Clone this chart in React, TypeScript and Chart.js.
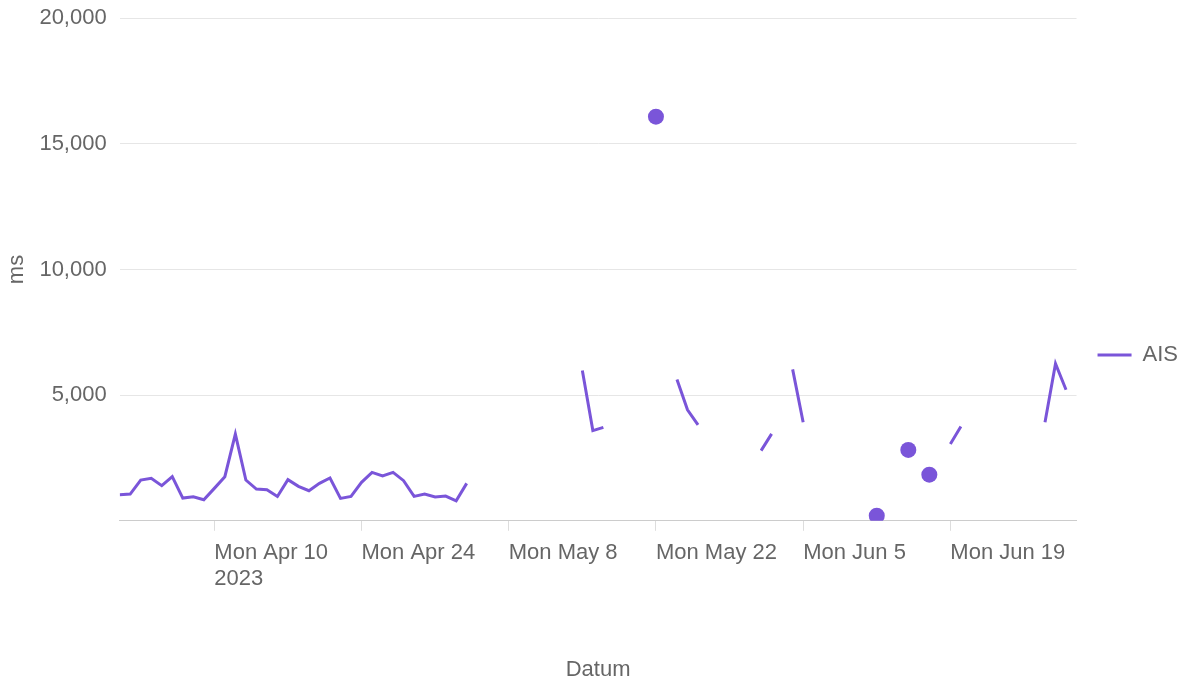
import React, { useEffect, useRef } from 'react';
import { Chart, registerables } from 'chart.js';

Chart.register(...registerables);

// ---- data ----
const START_DATE = '2023-04-01'; // day index 0
const X_MAX_DAY = 91; // Jul 1
const SERIES_NAME = 'AIS';
const SERIES_COLOR = '#7a55d9';

// daily values (ms), index = days since START_DATE, null = no data
const aisValues: (number | null)[] = [
  1037, 1064, 1623, 1690, 1397, 1756, 905, 958, 838, 1290,
  1756, 3450, 1623, 1264, 1237, 970, 1636, 1370, 1197, 1490,
  1703, 890, 970, 1530, 1927, 1783, 1927, 1596, 970, 1064,
  945, 985, 798, 1490, null, null, null, null, null, null,
  null, null, null, null, 5985, 3590, 3720, null, null, null,
  null, 16080, null, 5626, 4417, 3818, null, null, null, null,
  null, 2793, 3459, null, 6025, 3922, null, null, null, null,
  null, null, 200, null, null, 2821, null, 1835, null, 3060,
  3751, null, null, null, null, null, null, null, 3922, 6250,
  5215,
];

const xTickDays = [9, 23, 37, 51, 65, 79];
const xTickLabels: (string | string[])[] = [
  ['Mon Apr 10', '2023'],
  'Mon Apr 24',
  'Mon May 8',
  'Mon May 22',
  'Mon Jun 5',
  'Mon Jun 19',
];
const yMin = 0;
const yMax = 20000;
const yStep = 5000;
const xTitle = 'Datum';
const yTitle = 'ms';

export default function App() {
  const canvasRef = useRef<HTMLCanvasElement | null>(null);

  useEffect(() => {
    if (!canvasRef.current) return;
    Chart.defaults.font.family = '"Liberation Sans", Arial, sans-serif';
    Chart.defaults.font.size = 22;
    Chart.defaults.color = '#666666';

    const points = aisValues.map((v, i) => ({ x: i, y: v }));
    const isolated = (i: number) =>
      aisValues[i] != null &&
      (i === 0 || aisValues[i - 1] == null) &&
      (i === aisValues.length - 1 || aisValues[i + 1] == null);

    const chart = new Chart(canvasRef.current, {
      type: 'line',
      data: {
        datasets: [
          {
            label: SERIES_NAME,
            data: points as any,
            borderColor: SERIES_COLOR,
            backgroundColor: SERIES_COLOR,
            borderWidth: 3,
            borderCapStyle: 'butt',
            tension: 0,
            spanGaps: false,
            pointRadius: (ctx: any) => (isolated(ctx.dataIndex) ? 8 : 0),
            pointHoverRadius: (ctx: any) => (isolated(ctx.dataIndex) ? 8 : 0),
            pointBorderWidth: 0,
            pointBackgroundColor: SERIES_COLOR,
          },
        ],
      },
      options: {
        animation: false,
        responsive: true,
        maintainAspectRatio: false,
        layout: { padding: 0 },
        plugins: {
          tooltip: { enabled: false },
          legend: {
            position: 'right',
            title: { display: true, text: ' ', font: { size: 10 }, padding: { top: 0, bottom: 12 } },
            labels: {
              usePointStyle: true,
              pointStyleWidth: 34,
              padding: 21,
              font: { size: 22 },
              color: '#666666',
              generateLabels: (c: any) =>
                c.data.datasets.map((ds: any, i: number) => ({
                  text: ds.label,
                  fillStyle: SERIES_COLOR,
                  strokeStyle: SERIES_COLOR,
                  lineWidth: 3,
                  pointStyle: 'line',
                  hidden: false,
                  datasetIndex: i,
                  fontColor: '#666666',
                })),
            },
          },
        },
        scales: {
          x: {
            type: 'linear',
            min: 0,
            max: X_MAX_DAY,
            afterBuildTicks: (scale: any) => {
              scale.ticks = xTickDays.map((v) => ({ value: v }));
            },
            ticks: {
              autoSkip: false,
              maxRotation: 0,
              align: 'start',
              padding: 9,
              callback: (value: any) => {
                const idx = xTickDays.indexOf(Number(value));
                return idx >= 0 ? xTickLabels[idx] : '';
              },
            },
            grid: {
              drawOnChartArea: false,
              drawTicks: true,
              tickLength: 10,
              color: '#dddddd',
            },
            border: { display: true, color: '#cccccc', width: 1 },
            title: {
              display: true,
              text: xTitle,
              padding: { top: 55, bottom: 3 },
            },
          },
          y: {
            min: yMin,
            max: yMax,
            ticks: {
              stepSize: yStep,
              padding: 5,
              callback: (value: any) =>
                Number(value) === 0 ? '' : Number(value).toLocaleString('en-US'),
            },
            grid: { color: '#e6e6e6', drawTicks: true, tickLength: 8, tickColor: 'rgba(0,0,0,0)' },
            border: { display: false },
            title: {
              display: true,
              text: yTitle,
              padding: { top: 4, bottom: 4 },
            },
          },
        },
      },
    } as any);

    return () => chart.destroy();
  }, []);

  return (
    <div style={{ position: 'fixed', left: 0, top: 0, width: 1188, height: 686 }}>
      <canvas ref={canvasRef} />
    </div>
  );
}
